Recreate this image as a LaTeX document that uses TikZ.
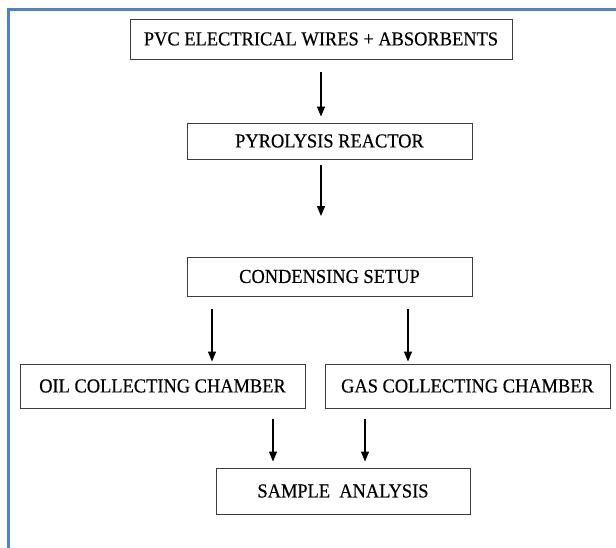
\documentclass[tikz,border=0pt]{standalone}
\usepackage{fontspec}
\setmainfont{Liberation Serif}
\newfontfamily\boxfont[FakeStretch=0.93,FakeBold=0.4]{Liberation Serif}
\usetikzlibrary{calc,arrows.meta}
\definecolor{framblue}{RGB}{79,129,200}
\definecolor{boxgray}{RGB}{60,60,60}
\begin{document}
\begin{tikzpicture}[x=1pt,y=1pt,
  box/.style={draw=boxgray,line width=0.9pt,inner sep=0pt,align=center,
    font=\boxfont\fontsize{19.8}{22}\selectfont},
  arr/.style={draw=black,line width=1.2pt,-{Triangle[length=10pt,width=8pt]}},
  frameline/.style={draw=framblue,line width=3pt}]
\useasboundingbox (0,0) rectangle (616,-548);
\fill[white] (0,0) rectangle (616,-548);
\draw[frameline] (8,-548) -- (8,-10) -- (616,-10);

\node[box,minimum width=382pt,minimum height=40pt] (n1) at (321,-39) {PVC ELECTRICAL WIRES + ABSORBENTS};
\node[box,minimum width=285pt,minimum height=36pt] (n2) at (329.5,-141) {PYROLYSIS REACTOR};
\node[box,minimum width=285pt,minimum height=39pt] (n3) at (329.5,-276.5) {CONDENSING SETUP};
\node[box,minimum width=285pt,minimum height=44pt] (oil) at (162.5,-386) {OIL COLLECTING CHAMBER};
\node[box,minimum width=285pt,minimum height=44pt] (gas) at (467.5,-386) {GAS COLLECTING CHAMBER};
\node[box,minimum width=254pt,minimum height=46pt] (sample) at (343,-491) {SAMPLE\ \ ANALYSIS};

\draw[arr] ($(n1.south)+(0,-13)$) -- ($(n2.north)+(-8.5,6)$);
\draw[arr] ($(n2.south)+(-8.5,-6)$) -- ($(n3.north)+(-8.5,40.5)$);
\draw[arr] ($(n3.south)+(-117.5,-13)$) -- ($(oil.north)+(49.5,2)$);
\draw[arr] ($(n3.south)+(78.5,-13)$) -- ($(gas.north)+(-59.5,2)$);
\draw[arr] ($(oil.south)+(110.5,-11)$) -- ($(sample.north)+(-70,6)$);
\draw[arr] ($(gas.south)+(-102.5,-11)$) -- ($(sample.north)+(22,6)$);
\end{tikzpicture}
\end{document}
